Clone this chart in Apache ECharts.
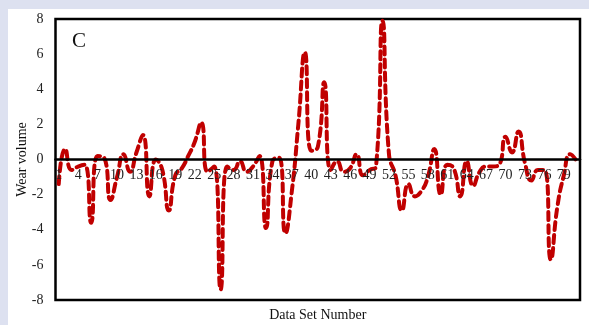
<!DOCTYPE html>
<html>
<head>
<meta charset="utf-8">
<script src="https://cdn.jsdelivr.net/npm/echarts@6/dist/echarts.min.js"></script>
<style>
html,body{margin:0;padding:0;background:#dde1f0;}
#panel{position:absolute;left:8px;top:9px;right:0;bottom:0;background:#fff;}
#chart{position:absolute;left:0;top:0;width:589px;height:325px;}
</style>
</head>
<body>
<div id="panel"></div>
<div id="chart"></div>
<script>
const categories = Array.from({length: 81}, (_, i) => String(i + 1));
const wearVolume = [
  -1.4, 0.6, -0.6, -0.4, -0.3, -3.6, 0.2, 0.1, -2.3, -1.0,
  0.3, -0.7, 0.4, 1.4, -2.1, 0.0, -0.6, -2.9, -0.9, -0.5,
  0.2, 1.0, 2.1, -0.7, -0.4, -7.4, -0.4, -0.6, -0.1, -0.7,
  -0.4, 0.2, -3.9, -0.1, 0.1, -4.2, -1.8, 2.0, 6.1, 0.5,
  0.7, 4.4, -0.6, -0.1, -0.7, -0.5, 0.3, -0.9, -0.6, -0.4,
  7.9, 0.3, -0.9, -2.9, -1.4, -2.1, -1.8, -1.0, 0.6, -2.0,
  -0.3, -0.5, -2.1, -0.1, -1.5, -0.7, -0.4, -0.4, -0.3, 1.3,
  0.4, 1.6, -0.2, -1.2, -0.6, -0.6, -5.7, -2.7, -0.9, 0.3,
  -0.1
];
const yTicks = { min: -8, max: 8, interval: 2 };
const xLabelStep = 3;
const panelLabel = 'C';
const xName = 'Data Set Number';
const yName = 'Wear volume';

const font = '"Liberation Serif", "Times New Roman", serif';
const W = 589, H = 325;
const gridL = 55.5, gridR = 9, gridT = 19, gridB = 25;
const gridH = H - gridT - gridB;
const zeroOffset = -gridH * (0 - yTicks.min) / (yTicks.max - yTicks.min);

const chart = echarts.init(document.getElementById('chart'), null, {renderer: 'canvas'});
chart.setOption({
  animation: false,
  backgroundColor: 'transparent',
  grid: { left: gridL, right: gridR, top: gridT, bottom: gridB, show: true, borderColor: '#000', borderWidth: 2.5, backgroundColor: 'transparent' },
  xAxis: {
    type: 'category',
    data: categories,
    boundaryGap: true,
    position: 'bottom',
    offset: zeroOffset,
    z: 5,
    axisLine: { show: true, onZero: false, lineStyle: { color: '#000', width: 2.5 } },
    axisTick: { show: false },
    axisLabel: {
      interval: (idx) => idx % xLabelStep === 0,
      margin: 9, showMinLabel: true, hideOverlap: false,
      fontFamily: font, fontSize: 14, color: '#222'
    },
    splitLine: { show: false }
  },
  yAxis: {
    type: 'value',
    min: yTicks.min, max: yTicks.max, interval: yTicks.interval,
    axisLine: { show: false },
    axisTick: { show: false },
    axisLabel: { margin: 12, fontFamily: font, fontSize: 14, color: '#222' },
    splitLine: { show: false }
  },
  graphic: [
    { type: 'text', left: 72, top: 31, style: { text: panelLabel, font: '21px ' + font, fill: '#111' } },
    { type: 'text', x: (gridL + W - gridR) / 2, y: 308, style: { text: xName, font: '14px ' + font, fill: '#111', textAlign: 'center' } },
    { type: 'text', x: 22, y: gridT + gridH / 2, rotation: Math.PI / 2,
      style: { text: yName, font: '14px ' + font, fill: '#111', textAlign: 'center', textVerticalAlign: 'middle' } }
  ],
  series: [{
    type: 'line',
    data: wearVolume,
    smooth: 0.55,
    showSymbol: false,
    lineStyle: { color: '#c00000', width: 4, type: [8, 5], cap: 'round' },
    z: 1
  }]
});
</script>
</body>
</html>
